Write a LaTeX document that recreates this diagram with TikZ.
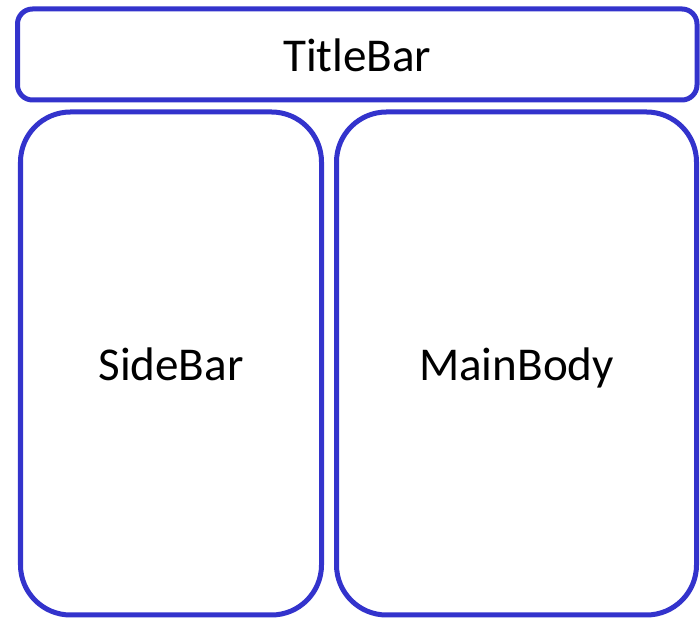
\documentclass[tikz,border=0pt]{standalone}
\usepackage{fontspec}
\setmainfont{Carlito}
\usetikzlibrary{positioning}

\definecolor{panelblue}{RGB}{51,51,204}

\begin{document}
\begin{tikzpicture}[
    panel/.style={draw=panelblue, line width=0.1cm, rectangle, align=center,
        text height=0.68cm, text depth=0cm,
        font=\fontsize{26.8}{32}\selectfont}
]
    \useasboundingbox (0,0) rectangle (14,12.36);

    \node[panel, rounded corners=0.3cm, minimum width=13.59cm, minimum height=1.82cm] (title) at (7.145,11.27) {TitleBar};
    \node[panel, rounded corners=1cm, minimum width=6.02cm, minimum height=10.06cm] (side) at (3.42,5.09) {SideBar};
    \node[panel, rounded corners=1cm, minimum width=7.2cm, minimum height=10.06cm, right=0.2cm of side] (main) {MainBody};
\end{tikzpicture}
\end{document}
